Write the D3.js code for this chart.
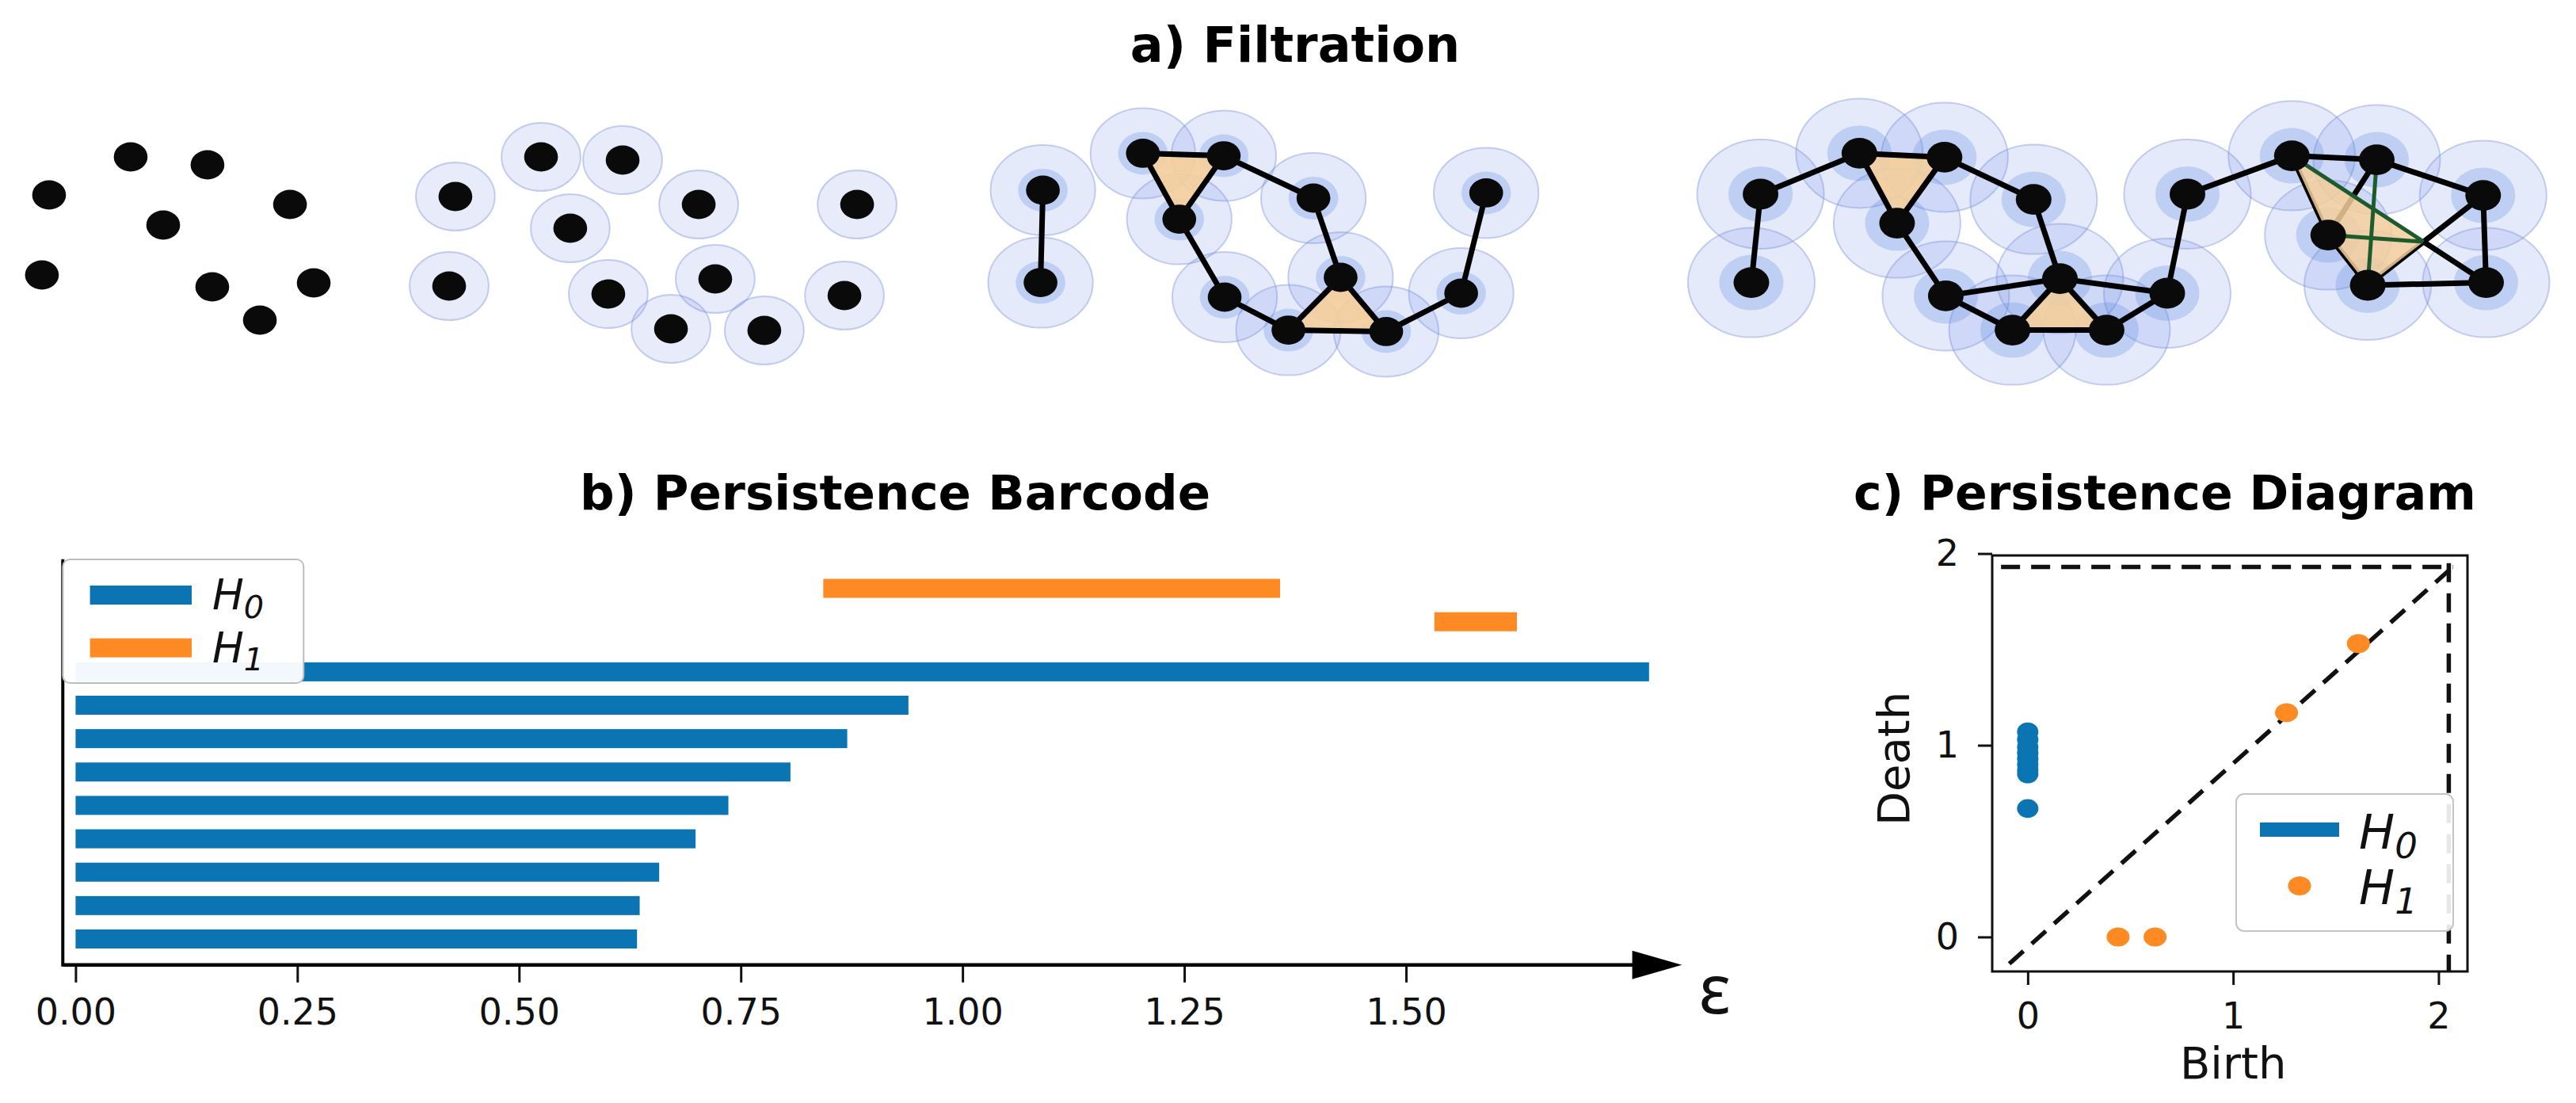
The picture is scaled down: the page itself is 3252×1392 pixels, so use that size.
<!DOCTYPE html>
<html>
<head>
<meta charset="utf-8">
<script src="https://cdn.jsdelivr.net/npm/d3@7/dist/d3.min.js"></script>
<style>
  html, body { margin: 0; padding: 0; background: #fff; }
  svg { display: block; font-family: "DejaVu Sans", sans-serif; }
</style>
</head>
<body>
<svg id="chart" width="3252" height="1392"></svg>
<script>
// ---- a) filtration: point clouds (abstract units) ----
const panel1Points = [[7.11, 2.4], [11.29, 2.9], [2.67, 4.8], [8.88, 6.7], [15.78, 5.4],
  [2.28, 9.85], [11.55, 10.6], [17.07, 10.35], [14.14, 12.7]];

const panel2Points = [[24.78, 4.9], [29.44, 2.4], [33.88, 2.6], [31.03, 6.9], [38.02, 5.4],
  [46.64, 5.4], [24.44, 10.55], [33.1, 11.05], [38.92, 10.1], [36.51, 13.25],
  [41.59, 13.35], [45.95, 11.15]];

const panel3Points = [[56.75, 4.5], [56.62, 10.33], [62.19, 2.17], [66.59, 2.33], [64.17, 6.33],
  [71.47, 5.0], [80.87, 4.67], [66.64, 11.25], [72.95, 10.0], [70.11, 13.33],
  [75.43, 13.42], [79.51, 11.0]];
const panel3Edges = [[0, 1], [2, 3], [2, 4], [3, 4], [3, 5], [5, 8], [4, 7], [7, 9],
  [9, 10], [8, 9], [8, 10], [10, 11], [11, 6]];
const panel3Triangles = [[2, 3, 4], [8, 9, 10]];

const panel4Points = [[95.8, 4.75], [95.3, 10.33], [101.18, 2.17], [105.81, 2.42], [103.23, 6.58],
  [110.66, 5.08], [105.88, 11.17], [112.09, 10.08], [109.51, 13.33], [114.63, 13.33],
  [117.93, 11.0], [119.03, 4.75], [124.71, 2.33], [129.33, 2.58], [135.12, 4.83],
  [126.69, 7.33], [128.84, 10.5], [135.28, 10.33]];
const panel4Edges = [[0, 1], [0, 2], [2, 3], [2, 4], [3, 4], [3, 5], [5, 7], [4, 6], [6, 7],
  [7, 10], [6, 8], [8, 9], [7, 8], [7, 9], [9, 10], [10, 11], [11, 12], [12, 13],
  [12, 15], [13, 15], [13, 14], [14, 17], [14, 16], [15, 16], [16, 17]];
const panel4Triangles = [[2, 3, 4], [7, 8, 9]];
const panel4GreenEdges = [[13, 16]];

const ballRadius = [0, 2.15, 2.85, 3.45];
const innerRadius = [0, 0, 1.35, 1.75];

// ---- b) persistence barcode ----
const h0Deaths = [0.633, 0.636, 0.658, 0.699, 0.736, 0.806, 0.870, 0.939, 1.774];
const h1Births = [0.843, 1.532];
const h1Deaths = [1.358, 1.625];
const h1Rows = [10.5, 9.5];
const barcodeTicks = [0, 0.25, 0.5, 0.75, 1.0, 1.25, 1.5];

// ---- c) persistence diagram ----
const pdH0Deaths = [1.07, 1.03, 0.99, 0.96, 0.93, 0.90, 0.87, 0.85, 0.67];
const pdH1Births = [0.44, 0.62, 1.26, 1.61];
const pdH1Deaths = [0.0, 0.0, 1.17, 1.53];
const pdTicks = [0, 1, 2];
const pdInfinity = 1.93;
const pdInfinityX = 2.05;
const pdDiagonal = [[-0.09, -0.14], [2.09, 1.95]];

const blue = '#0b75b3';
const orange = '#fd8a22';

const svg = d3.select('#chart');

// ================= a) Filtration =================
const xF = d3.scaleLinear().domain([0, 140]).range([0, 3248]);
const yF = d3.scaleLinear().domain([0, 15]).range([150, 450]);
const rx = (r) => xF(r) - xF(0);
const ry = (r) => yF(r) - yF(0);

svg.append('text')
  .attr('x', 1635).attr('y', 78)
  .attr('text-anchor', 'middle')
  .attr('font-weight', 'bold')
  .attr('font-size', 62)
  .text('a) Filtration');

const lineIntersect = (p1, p2, p3, p4) => {
  const d = (p1[0] - p2[0]) * (p3[1] - p4[1]) - (p1[1] - p2[1]) * (p3[0] - p4[0]);
  const t = ((p1[0] - p3[0]) * (p3[1] - p4[1]) - (p1[1] - p3[1]) * (p3[0] - p4[0])) / d;
  return [p1[0] + t * (p2[0] - p1[0]), p1[1] + t * (p2[1] - p1[1])];
};

const drawComplex = (g, { points, level, edges = [], triangles = [], dotR = 0.92 }) => {
  if (ballRadius[level] > 0) {
    g.append('g').selectAll('ellipse')
      .data(points)
      .join('ellipse')
      .attr('cx', (d) => xF(d[0]))
      .attr('cy', (d) => yF(d[1]))
      .attr('rx', rx(ballRadius[level]))
      .attr('ry', ry(ballRadius[level]))
      .attr('fill', level === 1 ? 'rgba(125,145,228,0.18)' : 'rgba(110,140,225,0.18)')
      .attr('stroke', 'rgba(120,140,220,0.4)')
      .attr('stroke-width', 2);
  }
  if (innerRadius[level] > 0) {
    g.append('g').selectAll('ellipse')
      .data(points)
      .join('ellipse')
      .attr('cx', (d) => xF(d[0]))
      .attr('cy', (d) => yF(d[1]))
      .attr('rx', rx(innerRadius[level]))
      .attr('ry', ry(innerRadius[level]))
      .attr('fill', 'rgba(95,135,225,0.28)');
  }
  g.append('g').selectAll('polygon')
    .data(triangles)
    .join('polygon')
    .attr('points', (t) => t.map((i) => [xF(points[i][0]), yF(points[i][1])].join(',')).join(' '))
    .attr('fill', '#f5cf9b')
    .attr('fill-opacity', 0.9);
  g.append('g').selectAll('line')
    .data(edges)
    .join('line')
    .attr('x1', (e) => xF(points[e[0]][0]))
    .attr('y1', (e) => yF(points[e[0]][1]))
    .attr('x2', (e) => xF(points[e[1]][0]))
    .attr('y2', (e) => yF(points[e[1]][1]))
    .attr('stroke', '#000')
    .attr('stroke-width', 7);
  const dots = g.append('g').attr('class', 'dots');
  return () => dots.selectAll('ellipse')
    .data(points)
    .join('ellipse')
    .attr('cx', (d) => xF(d[0]))
    .attr('cy', (d) => yF(d[1]))
    .attr('rx', rx(dotR))
    .attr('ry', ry(dotR))
    .attr('fill', '#0a0a0a');
};

drawComplex(svg.append('g'), { points: panel1Points, level: 0 })();
drawComplex(svg.append('g'), { points: panel2Points, level: 1 })();
drawComplex(svg.append('g'), {
  points: panel3Points, level: 2, edges: panel3Edges, triangles: panel3Triangles,
})();

const g4 = svg.append('g');
const finish4 = drawComplex(g4, {
  points: panel4Points, level: 3, edges: panel4Edges, triangles: panel4Triangles, dotR: 0.97,
});
// the filled patch spanned by the last cluster
const [m, o, p, q, r] = [12, 14, 15, 16, 17].map((i) => panel4Points[i]);
const cross = lineIntersect(m, r, o, q);
g4.insert('polygon', '.dots')
  .attr('points', [m, cross, q, p].map((d) => [xF(d[0]), yF(d[1])].join(',')).join(' '))
  .attr('fill', '#f5cf9b')
  .attr('fill-opacity', 0.85);
const greenSegs = [[m, cross], [p, cross], ...panel4GreenEdges.map((e) => [panel4Points[e[0]], panel4Points[e[1]]])];
g4.insert('g', '.dots').selectAll('line')
  .data(greenSegs)
  .join('line')
  .attr('x1', (s) => xF(s[0][0])).attr('y1', (s) => yF(s[0][1]))
  .attr('x2', (s) => xF(s[1][0])).attr('y2', (s) => yF(s[1][1]))
  .attr('stroke', '#1d5a2c')
  .attr('stroke-width', 5);
g4.insert('line', '.dots')
  .attr('x1', xF(cross[0])).attr('y1', yF(cross[1]))
  .attr('x2', xF(r[0])).attr('y2', yF(r[1]))
  .attr('stroke', '#000').attr('stroke-width', 7);
finish4();

// ================= b) Persistence Barcode =================
const xB = d3.scaleLinear().domain([0, 1.5]).range([95.4, 1775]);
const yB = d3.scaleLinear().domain([0, 10.5]).range([1185, 742.5]);
const barH = 24;
const axisY = yB(-0.78);
const spineX = xB(-0.0144);

svg.append('text')
  .attr('x', 1130).attr('y', 643)
  .attr('text-anchor', 'middle')
  .attr('font-weight', 'bold')
  .attr('font-size', 61)
  .text('b) Persistence Barcode');

const bars = svg.append('g');
bars.selectAll('rect.h0')
  .data(h0Deaths)
  .join('rect')
  .attr('class', 'h0')
  .attr('x', xB(0))
  .attr('y', (d, i) => yB(i) - barH / 2)
  .attr('width', (d) => xB(d) - xB(0))
  .attr('height', barH)
  .attr('fill', blue);
bars.selectAll('rect.h1')
  .data(h1Births)
  .join('rect')
  .attr('class', 'h1')
  .attr('x', (d) => xB(d))
  .attr('y', (d, i) => yB(h1Rows[i]) - barH / 2)
  .attr('width', (d, i) => xB(h1Deaths[i]) - xB(d))
  .attr('height', barH)
  .attr('fill', orange);

const xAxisB = svg.append('g')
  .attr('transform', `translate(0,${axisY})`)
  .call(d3.axisBottom(xB).tickValues(barcodeTicks).tickFormat(d3.format('.2f'))
    .tickSize(22).tickPadding(20));
xAxisB.select('.domain').remove();
xAxisB.selectAll('.tick line').attr('stroke', '#111').attr('stroke-width', 3);
xAxisB.selectAll('.tick text')
  .attr('font-size', 46)
  .attr('font-family', '"DejaVu Sans", sans-serif')
  .attr('fill', '#111');

svg.append('line')
  .attr('x1', spineX).attr('y1', yB(11.37))
  .attr('x2', spineX).attr('y2', axisY + 2)
  .attr('stroke', '#000').attr('stroke-width', 4);
const arrowBase = xB(1.755);
const arrowTip = xB(1.811);
svg.append('line')
  .attr('x1', spineX).attr('y1', axisY)
  .attr('x2', arrowBase + 2).attr('y2', axisY)
  .attr('stroke', '#000').attr('stroke-width', 4.5);
svg.append('polygon')
  .attr('points', `${arrowBase},${axisY - 18} ${arrowTip},${axisY} ${arrowBase},${axisY + 18}`)
  .attr('fill', '#000');
svg.append('text')
  .attr('x', xB(1.83)).attr('y', axisY + 61)
  .attr('font-size', 86)
  .attr('font-family', '"Noto Sans", "DejaVu Sans", sans-serif')
  .attr('fill', '#111')
  .text('ε');

const mathLabel = (sel, sub, size) => {
  sel.attr('font-style', 'italic').attr('font-size', size).attr('fill', '#111');
  sel.append('tspan').text('H');
  sel.append('tspan').attr('font-size', size * 0.75).attr('dy', size * 0.2).text(sub);
};

const legB = svg.append('g');
legB.append('rect')
  .attr('x', spineX).attr('y', 706)
  .attr('width', 304).attr('height', 156)
  .attr('rx', 9)
  .attr('fill', '#fff')
  .attr('fill-opacity', 0.95)
  .attr('stroke', '#bdbdbd')
  .attr('stroke-width', 2);
[['0', blue, 751], ['1', orange, 817.6]].forEach(([sub, color, cy]) => {
  legB.append('rect')
    .attr('x', 113.6).attr('y', cy - barH / 2)
    .attr('width', 128.4).attr('height', barH)
    .attr('fill', color);
  legB.append('text')
    .attr('x', 268).attr('y', cy + 18)
    .call(mathLabel, sub, 53);
});

// ================= c) Persistence Diagram =================
const xP = d3.scaleLinear().domain([-0.173, 2.141]).range([2515, 3115]);
const yP = d3.scaleLinear().domain([-0.18, 1.99]).range([1226, 701]);

svg.append('text')
  .attr('x', 2733).attr('y', 643)
  .attr('text-anchor', 'middle')
  .attr('font-weight', 'bold')
  .attr('font-size', 60)
  .text('c) Persistence Diagram');

const pd = svg.append('g');
const dash = '24,14';
pd.append('line')
  .attr('x1', xP(pdDiagonal[0][0])).attr('y1', yP(pdDiagonal[0][1]))
  .attr('x2', xP(pdDiagonal[1][0])).attr('y2', yP(pdDiagonal[1][1]))
  .attr('stroke', '#111').attr('stroke-width', 5.5).attr('stroke-dasharray', dash);
pd.append('line')
  .attr('x1', xP(-0.13)).attr('y1', yP(pdInfinity))
  .attr('x2', xP(2.07)).attr('y2', yP(pdInfinity))
  .attr('stroke', '#111').attr('stroke-width', 5.5).attr('stroke-dasharray', dash);
pd.append('line')
  .attr('x1', xP(pdInfinityX)).attr('y1', yP(1.95))
  .attr('x2', xP(pdInfinityX)).attr('y2', yP(-0.18))
  .attr('stroke', '#111').attr('stroke-width', 5.5).attr('stroke-dasharray', dash);

pd.selectAll('ellipse.h0')
  .data(pdH0Deaths)
  .join('ellipse')
  .attr('class', 'h0')
  .attr('cx', xP(0))
  .attr('cy', (d) => yP(d))
  .attr('rx', 13.5).attr('ry', 11.8)
  .attr('fill', blue);
pd.selectAll('ellipse.h1')
  .data(pdH1Births)
  .join('ellipse')
  .attr('class', 'h1')
  .attr('cx', (d) => xP(d))
  .attr('cy', (d, i) => yP(pdH1Deaths[i]))
  .attr('rx', 14.5).attr('ry', 12)
  .attr('fill', orange);

const [x0, x1] = xP.range();
const [y0, y1] = yP.range();
pd.append('rect')
  .attr('x', x0).attr('y', y1)
  .attr('width', x1 - x0).attr('height', y0 - y1)
  .attr('fill', 'none').attr('stroke', '#111').attr('stroke-width', 3);

const xAxisP = pd.append('g')
  .attr('transform', `translate(0,${y0})`)
  .call(d3.axisBottom(xP).tickValues(pdTicks).tickFormat(d3.format('d')).tickSize(17).tickPadding(22));
const yAxisP = pd.append('g')
  .attr('transform', `translate(${x0},0)`)
  .call(d3.axisLeft(yP).tickValues(pdTicks).tickFormat(d3.format('d')).tickSize(18).tickPadding(24));
[xAxisP, yAxisP].forEach((ax) => {
  ax.select('.domain').remove();
  ax.selectAll('.tick line').attr('stroke', '#111').attr('stroke-width', 3);
  ax.selectAll('.tick text')
    .attr('font-size', 46)
    .attr('font-family', '"DejaVu Sans", sans-serif')
    .attr('fill', '#111');
});

pd.append('text')
  .attr('x', xP(1)).attr('y', 1361)
  .attr('text-anchor', 'middle')
  .attr('font-size', 56)
  .attr('fill', '#111')
  .text('Birth');
pd.append('text')
  .attr('transform', `translate(2410,${yP(0.93)}) rotate(-90)`)
  .attr('text-anchor', 'middle')
  .attr('font-size', 56)
  .attr('fill', '#111')
  .text('Death');

const legP = pd.append('g');
legP.append('rect')
  .attr('x', 2823).attr('y', 1002)
  .attr('width', 274).attr('height', 173)
  .attr('rx', 10)
  .attr('fill', '#fff')
  .attr('fill-opacity', 0.9)
  .attr('stroke', '#c4c4c4')
  .attr('stroke-width', 2);
legP.append('rect')
  .attr('x', 2853).attr('y', 1047 - 9)
  .attr('width', 100).attr('height', 18)
  .attr('fill', blue);
legP.append('ellipse')
  .attr('cx', 2903).attr('cy', 1118)
  .attr('rx', 14.5).attr('ry', 12)
  .attr('fill', orange);
legP.append('text').attr('x', 2978).attr('y', 1071).call(mathLabel, '0', 60);
legP.append('text').attr('x', 2978).attr('y', 1141).call(mathLabel, '1', 60);
</script>
</body>
</html>
